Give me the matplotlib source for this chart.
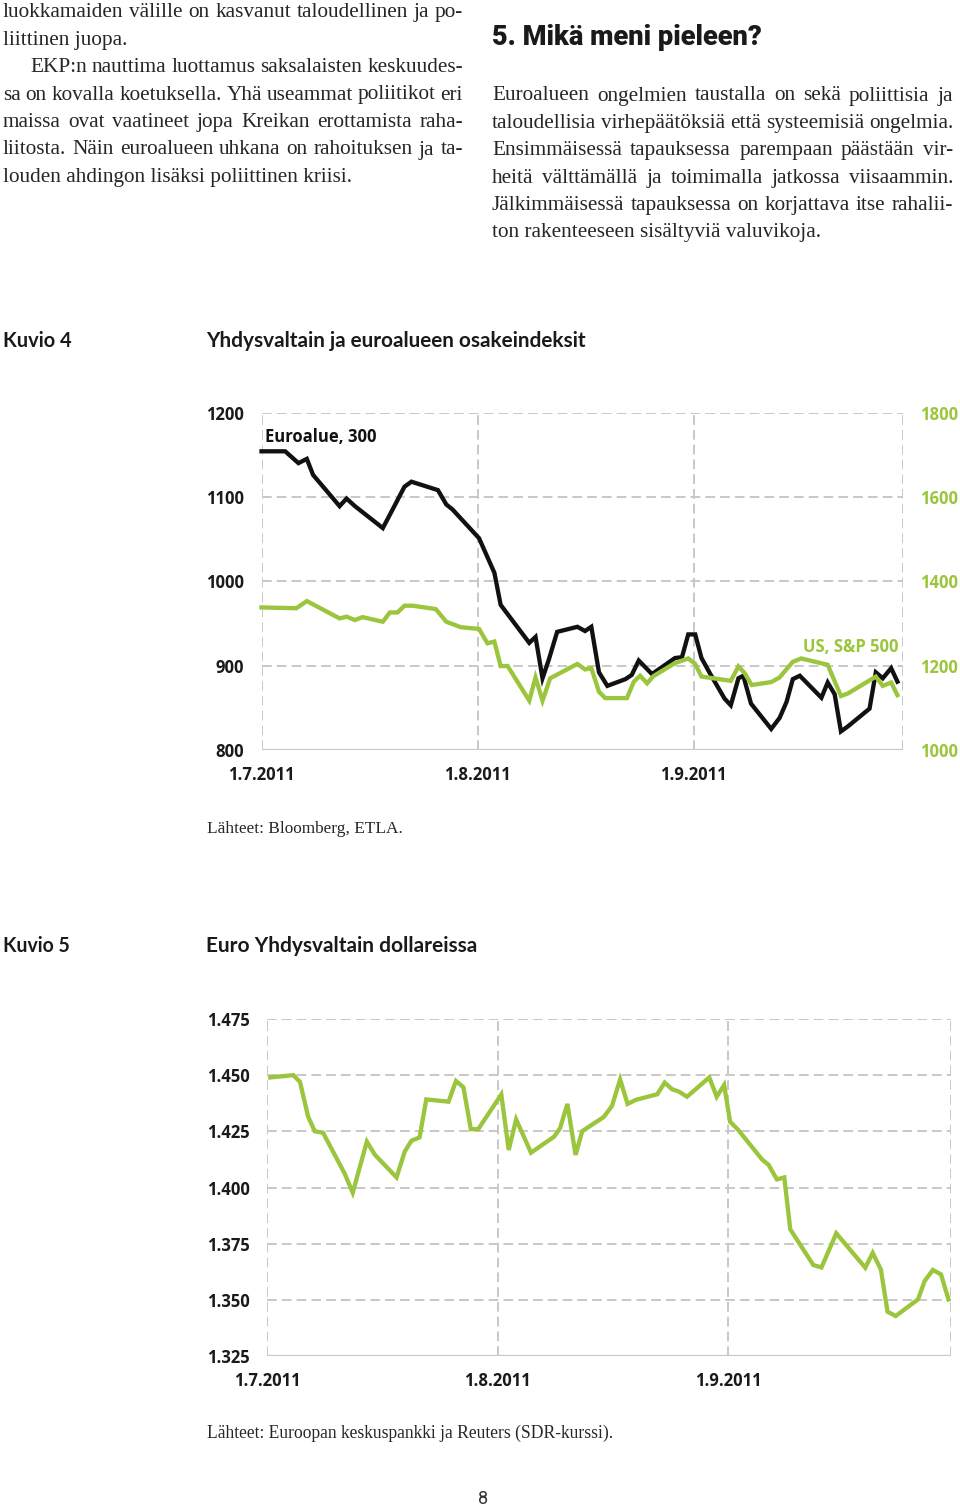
import matplotlib
matplotlib.use("Agg")
import matplotlib.pyplot as plt

W, H = 960, 1506
GREEN = "#9bc53d"
GRID = "#c8c8c8"
TEXT = "#262626"
DASH = (0, (5, 2.6))

# ---------------- data (x = days since 1.7.2011) ----------------
euro_days = [0, 3.4, 5.3, 6.5, 7.4, 11.2, 12.2, 13.4, 17.4, 18.8, 20.5, 21.5, 25.3, 26.5, 27.4,
             31.2, 33.4, 34.3, 38.4, 39.3, 40.3, 41.2, 42.4, 45.3, 46.4, 47.3, 48.4, 49.6, 52.2,
             53.1, 54.1, 56.0, 59.3, 60.3, 61.2, 62.2, 63.1, 64.3, 66.4, 67.3, 68.4, 69.1, 70.2,
             73.1, 74.3, 75.3, 76.2, 77.2, 80.3, 81.2, 82.2, 83.1, 84.1, 87.2, 88.1, 89.1, 90.3, 91.2]
euro_vals = [1154, 1154, 1140, 1145, 1126, 1089, 1098, 1089, 1063, 1085, 1112, 1118, 1108, 1091, 1085,
             1051, 1010, 972, 927, 934, 885, 907, 940, 946, 941, 946, 892, 876, 884,
             889, 906, 890, 909, 910, 937, 937, 909, 891, 861, 853, 885, 888, 855,
             825, 838, 857, 884, 888, 862, 880, 866, 822, 828, 849, 892, 885, 897, 881]

sp_days = [0, 5.0, 6.5, 11.2, 12.2, 13.4, 14.5, 17.4, 18.4, 19.5, 20.5, 21.7, 25.0, 26.5, 28.6,
           31.2, 32.4, 33.4, 34.3, 35.3, 38.4, 39.3, 40.3, 41.4, 45.3, 46.4, 47.3, 48.4, 49.3,
           52.4, 53.4, 54.3, 55.3, 56.2, 59.3, 61.2, 62.2, 63.1, 64.8, 67.3, 68.4, 69.3, 70.3,
           73.1, 74.3, 76.2, 77.4, 81.2, 83.1, 84.1, 88.1, 89.1, 90.3, 91.2]
sp_vals = [1338, 1336, 1353, 1312, 1316, 1308, 1315, 1304, 1326, 1326, 1342, 1342, 1334, 1304, 1291,
           1287, 1253, 1257, 1199, 1199, 1117, 1172, 1117, 1170, 1204, 1191, 1194, 1138, 1123,
           1123, 1162, 1176, 1158, 1175, 1206, 1217, 1204, 1174, 1170, 1164, 1198, 1182, 1154,
           1161, 1172, 1209, 1217, 1202, 1128, 1134, 1174, 1152, 1160, 1130]

usd_days = [0.4, 3.5, 4.4, 5.5, 6.4, 7.5, 10.4, 11.5, 13.4, 14.5, 17.4, 18.5, 19.4, 20.5, 21.4,
            24.4, 25.4, 26.4, 27.4, 28.4, 31.5, 32.5, 33.5, 35.5, 38.6, 39.4, 40.4, 41.5, 42.4,
            45.3, 46.4, 47.5, 48.5, 49.6, 52.5, 53.5, 54.5, 55.4, 56.5, 59.5, 60.5, 61.5, 62.3,
            63.4, 66.6, 67.5, 68.6, 69.6, 70.4, 73.5, 74.6, 76.6, 80.5, 81.5, 82.6, 83.5, 84.6,
            87.6, 88.5, 89.6, 90.7, 91.7]
usd_vals = [1.449, 1.450, 1.447, 1.4315, 1.425, 1.4244, 1.4063, 1.3977, 1.4204, 1.4145, 1.4045, 1.416,
            1.4208, 1.4223, 1.4392, 1.4382, 1.4474, 1.4446, 1.426, 1.426, 1.4414, 1.4167, 1.4303,
            1.4155, 1.4226, 1.4263, 1.4372, 1.4145, 1.4251, 1.4314, 1.4363, 1.4481, 1.4372, 1.439,
            1.4415, 1.4467, 1.4437, 1.4427, 1.4404, 1.449, 1.4404, 1.4456, 1.4293, 1.4256, 1.4125,
            1.41, 1.4036, 1.4045, 1.3814, 1.3655, 1.3644, 1.3796, 1.3643, 1.3709, 1.3635, 1.3447,
            1.3428, 1.3502, 1.3584, 1.3633, 1.3613, 1.3502]

month_days = [0, 31, 62]
month_labels = ["1.7.2011", "1.8.2011", "1.9.2011"]
end_day = 92

left_ticks = [800, 900, 1000, 1100, 1200]
right_ticks = [1000, 1200, 1400, 1600, 1800]
usd_ticks = [1.325, 1.35, 1.375, 1.4, 1.425, 1.45, 1.475]

left_col = [
    ("luokkamaiden välille on kasvanut taloudellinen ja po-", True, False),
    ("liittinen juopa.", False, False),
    ("EKP:n nauttima luottamus saksalaisten keskuudes-", True, True),
    ("sa on kovalla koetuksella. Yhä useammat poliitikot eri", True, False),
    ("maissa ovat vaatineet jopa Kreikan erottamista raha-", True, False),
    ("liitosta. Näin euroalueen uhkana on rahoituksen ja ta-", True, False),
    ("louden ahdingon lisäksi poliittinen kriisi.", False, False),
]
right_col = [
    "Euroalueen ongelmien taustalla on sekä poliittisia ja",
    "taloudellisia virhepäätöksiä että systeemisiä ongelmia.",
    "Ensimmäisessä tapauksessa parempaan päästään vir-",
    "heitä välttämällä ja toimimalla jatkossa viisaammin.",
    "Jälkimmäisessä tapauksessa on korjattava itse rahalii-",
    "ton rakenteeseen sisältyviä valuvikoja.",
]

# ---------------- figure ----------------
fig = plt.figure(figsize=(9.6, 15.06), dpi=100)
renderer = fig.canvas.get_renderer()


def fx(x):
    return x / W


def fy(y):
    return 1 - y / H


def text_width(s, **kw):
    t = fig.text(0, 0, s, **kw)
    w = t.get_window_extent(renderer=renderer).width
    t.remove()
    return w


def fit_text(s, x, y, width, ha="left", **kw):
    # scale font so that the text is as wide as in the page
    size = 10 * width / text_width(s, fontsize=10, **kw)
    fig.text(fx(x), fy(y), s, fontsize=size, ha=ha, va="baseline", **kw)


BODY = dict(family="Liberation Serif", fontsize=15.3, color=TEXT)


def body_line(s, x0, y, x1=None):
    if x1 is None:
        fig.text(fx(x0), fy(y), s, va="baseline", **BODY)
        return
    words = s.split(" ")
    ws = [text_width(w, **BODY) for w in words]
    gap = (x1 - x0 - sum(ws)) / (len(words) - 1)
    x = x0
    for w, wd in zip(words, ws):
        fig.text(fx(x), fy(y), w, va="baseline", **BODY)
        x += wd + gap


# body text columns
for i, (line, just, indent) in enumerate(left_col):
    x0 = 30 if indent else 3
    body_line(line, x0, 17 + i * 27.5, 463 if just else None)

fit_text("5. Mikä meni pieleen?", 492, 45, 269,
         family="Roboto", weight="black", color="#1a1a1a")
for i, line in enumerate(right_col):
    body_line(line, 492, 100.5 + i * 27.35, 953 if i < len(right_col) - 1 else None)

# figure titles
TITLE = dict(family="Lato", weight="bold", color="#1a1a1a")
fit_text("Kuvio 4", 3, 347, 69, **TITLE)
fit_text("Yhdysvaltain ja euroalueen osakeindeksit", 206, 347, 383, **TITLE)
fit_text("Kuvio 5", 3, 952, 67, **TITLE)
fit_text("Euro Yhdysvaltain dollareissa", 206, 952, 272, **TITLE)

SRC = dict(family="Liberation Serif", color=TEXT)
fit_text("Lähteet: Bloomberg, ETLA.", 207, 833, 195, **SRC)
fit_text("Lähteet: Euroopan keskuspankki ja Reuters (SDR-kurssi).", 207, 1438, 407, **SRC)
fig.text(fx(483), fy(1504), "8", ha="center", va="baseline", fontsize=13,
         family="Roboto", color="#333333")

TICK = dict(family="Open Sans", weight="bold", size=12)


def frame(ax, y0, grid_y):
    for s in ax.spines.values():
        s.set_visible(False)
    for y in grid_y:
        ax.axhline(y, color=GRID, lw=1.4, ls=DASH, zorder=1)
    for d in month_days + [end_day]:
        ax.axvline(d, color=GRID, lw=1.4, ls=DASH, zorder=1)
    ax.axhline(y0, color=GRID, lw=1.6, zorder=1)
    ax.set_xlim(0, end_day)
    ax.set_xticks(month_days)
    ax.set_xticklabels(month_labels, **TICK)
    ax.tick_params(length=0, colors="#1a1a1a")
    ax.tick_params(axis="x", pad=11.5)
    ax.tick_params(axis="y", pad=12.8)


# ---------------- Kuvio 4 ----------------
ax = fig.add_axes([fx(261.5), fy(750), (903 - 261.5) / W, (750 - 412.5) / H])
ax.patch.set_alpha(0)
ax.set_ylim(800, 1200)
frame(ax, 800, left_ticks[1:])
ax.set_yticks(left_ticks)
ax.set_yticklabels([str(v) for v in left_ticks], **TICK)
ax.plot(euro_days, euro_vals, color="#111111", lw=3.1, solid_joinstyle="miter",
        clip_on=False, zorder=3)
ax.text(0.5, 1165, "Euroalue, 300", va="baseline", color="#111111", **TICK)

ax2 = ax.twinx()
for s in ax2.spines.values():
    s.set_visible(False)
ax2.set_ylim(1000, 1800)
ax2.set_yticks(right_ticks)
ax2.set_yticklabels([str(v) for v in right_ticks], color=GREEN, **TICK)
ax2.tick_params(length=0, pad=12.2)
ax2.plot(sp_days, sp_vals, color=GREEN, lw=3.1, solid_joinstyle="miter", clip_on=False, zorder=3)
ax2.text(91.3, 1232, "US, S&P 500", ha="right", va="baseline", color=GREEN, **TICK)

# ---------------- Kuvio 5 ----------------
bx = fig.add_axes([fx(267.3), fy(1356), (950.7 - 267.3) / W, (1356 - 1019) / H])
bx.set_ylim(1.325, 1.475)
frame(bx, 1.325, usd_ticks[1:])
bx.set_yticks(usd_ticks)
bx.set_yticklabels([f"{v:.3f}" for v in usd_ticks], **TICK)
bx.tick_params(axis="y", pad=12.4)
bx.plot(usd_days, usd_vals, color=GREEN, lw=3.1, solid_joinstyle="miter", clip_on=False, zorder=3)

fig.savefig("out.png", dpi=100, facecolor="white")
